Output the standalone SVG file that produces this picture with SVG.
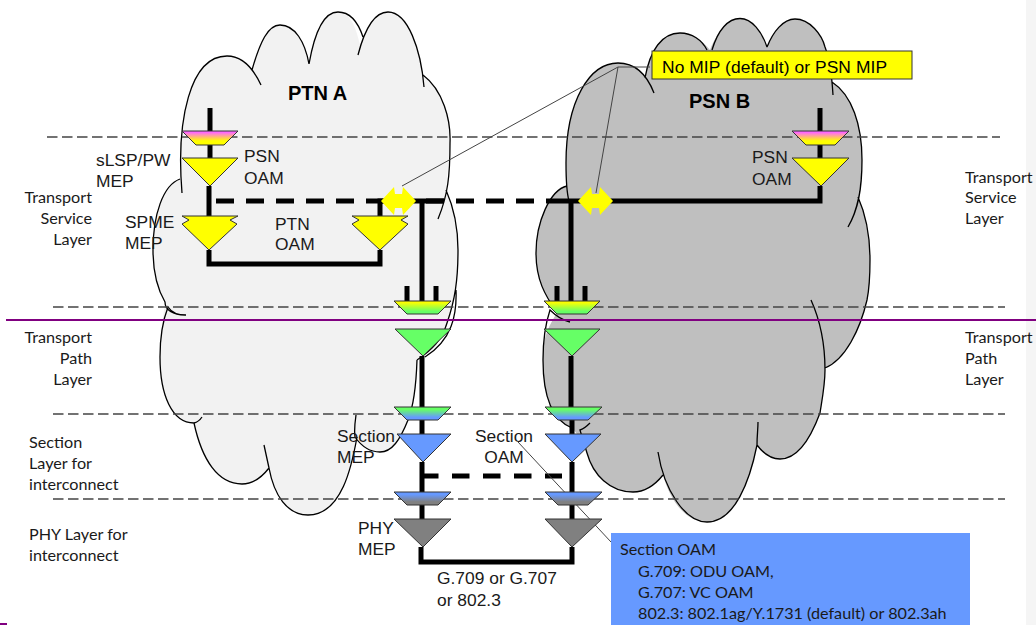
<svg xmlns="http://www.w3.org/2000/svg" width="1036" height="625" viewBox="0 0 1036 625">
<style>
.fa{fill:#f2f2f2;stroke:none}.fb{fill:#bfbfbf;stroke:none}
.arc{fill:none;stroke:#000;stroke-width:1.3}
.dash{fill:none;stroke:#444;stroke-width:1.3;stroke-dasharray:10.5 4.5}
.thick{fill:none;stroke:#000;stroke-width:5}
.tri{stroke:#333;stroke-width:1}
.lead{fill:none;stroke:#444;stroke-width:1}
text{font-family:"Liberation Sans",Arial,sans-serif;font-size:17.4px;fill:#1a1a1a}
.c text{font-family:Lato,"Liberation Sans",sans-serif;font-size:16.2px}
</style>
<defs>
<linearGradient id="gMY" x1="0" y1="0" x2="0" y2="1"><stop offset="0.1" stop-color="#ff66ff"/><stop offset="0.7" stop-color="#ffff00"/></linearGradient>
<linearGradient id="gYG" x1="0" y1="0" x2="0" y2="1"><stop offset="0.1" stop-color="#ffff00"/><stop offset="0.8" stop-color="#66ff66"/></linearGradient>
<linearGradient id="gGB" x1="0" y1="0" x2="0" y2="1"><stop offset="0.2" stop-color="#66ff66"/><stop offset="0.8" stop-color="#6699ff"/></linearGradient>
<linearGradient id="gBK" x1="0" y1="0" x2="0" y2="1"><stop offset="0.2" stop-color="#6699ff"/><stop offset="0.75" stop-color="#808080"/></linearGradient>
<path id="pa" d="M182 193C176 120 190 56 227 56C243 56 254 70 261 85M252 70C260 42 268 25 280 25C295 25 305 42 309 64M309 64C315 30 325 12 338 12C350 12 358 22 363 37M358 55C365 28 375 12 388 12C408 12 421 50 424 87M423 75C443 90 451 120 450 143C450 175 448 195 438 219M446 190C454 208 458 230 458 250C458 280 455 300 447 323C442 340 432 350 417 360M456 290C457 315 452 340 425 357M417 360C416 390 412 410 408 420C400 440 392 452 380 452C370 452 362 447 355 437C354 430 355 422 356 415M357 437C352 465 342 515 308 515C287 515 274 495 269 468L264 445M269 468C262 477 254 484 242 484C218 484 202 460 194 423C198 422 200 420 202 417M194 423C172 423 160 395 160 357C160 335 163 320 168 307C172 313 178 315 186 315M185 315C173 315 165 310 165 302C158 290 153 272 153 250C153 215 163 185 180 179"/>
<path id="pb" d="M569 201C566 190 566 175 566 163C566 100 590 63 618 63C635 63 647 75 654 93M645 78C650 50 662 33 680 33C692 33 702 40 707 50M712 50C718 30 728 18.5 740 18.5C752 18.5 762 32 767 47M767 47C773 32 783 19 795 19C810 19 822 35 825 47C830 60 832 78 833 95M832 82C852 95 862 125 862 160C862 190 858 210 848 227M858 197C866 215 870 235 870 260C870 280 869 290 867 300C860 330 845 360 825 368M811 300C820 320 825 345 825 370C825 385 822 400 820 413C810 440 797 459 780 459C770 459 763 453 757 445C757 435 758 430 758 422M757 445C750 480 735 522 707 522C685 522 664 490 658 452M663 475C655 485 645 492 633 492C610 492 593 475 587 453C584 443 582 437 580 430C584 429 587 426 590 423M572 428C552 420 543 395 543 360C543 340 546 322 550 310C556 316 562 320 570 322M557 313C545 295 536 280 536 253C536 222 550 190 567 186"/>
</defs>
<rect x="1026" y="0" width="10" height="625" fill="#f5f5f5"/>
<g id="cloud-a">
<path class="fa" d="M182 193C176 120 190 56 227 56C240 56 248 62 252 70C260 42 268 25 280 25C295 25 305 42 309 64C315 30 325 12 338 12C348 12 355 22 360 45C365 28 375 12 388 12C405 12 418 45 423 75C443 90 451 120 450 143L446 190C454 208 458 230 458 250C458 280 455 300 447 323C442 340 432 350 417 360C416 390 412 410 408 420C400 440 392 452 380 452C370 452 362 447 357 437C352 465 342 515 308 515C287 515 274 495 269 468C262 477 254 484 242 484C218 484 202 460 194 423C172 423 160 395 160 357C160 335 163 320 165 302C158 290 153 272 153 250C153 215 163 185 180 179Z"/>
<use href="#pa" class="arc"/>
</g>
<g id="cloud-b">
<path class="fb" d="M566 186C566 175 566 170 566 163C566 100 590 63 618 63C630 63 640 68 645 78C650 50 662 33 680 33C692 33 702 40 710 50C718 30 728 18.5 740 18.5C752 18.5 762 32 767 47C773 32 783 19 795 19C810 19 822 35 825 47C830 60 832 70 832 82C852 95 862 125 862 160C862 175 860 185 858 197C866 215 870 235 870 260C870 280 869 290 867 300C860 330 845 360 825 368C825 385 822 400 820 413C810 440 797 459 780 459C770 459 763 453 757 445C750 480 735 522 707 522C685 522 670 500 663 475C655 485 645 492 633 492C610 492 593 475 587 453C584 443 576 432 572 428C552 420 543 395 543 360C543 340 546 330 557 313C545 295 536 280 536 253C536 222 550 190 566 186Z"/>
<use href="#pb" class="arc"/>
</g>
<g id="layer-lines">
<path class="dash" d="M47 137H1000M53 307H1005M53 414H1005M53 499H1005"/>
<path d="M6 320H1036M0 624H7" fill="none" stroke="#800080" stroke-width="2"/>
</g>
<g id="connectors">
<path class="thick" d="M210 108V131M210 145V158M209 186V201M209 201V216M209 250V264H380V250M380 216V201H396M422 201V301M407 286V301M436 286V301M422 356V407M422 420V434M422 462V492M422 505V519M421 547V562H572V547"/>
<path class="thick" d="M216 201H564" stroke-dasharray="18 12"/>
<path class="thick" d="M414 201H444M564 201H612M612 201H820V186M820 108V131M820 145V158M571 201V301M557 286V301M585 286V301M571 356V407M572 420V434M572 462V492M572 505V519"/>
<path class="thick" d="M421 476H562" stroke-dasharray="17.5 13.5"/>
<path class="lead" stroke="#666" d="M402 186L618 67"/>
<path class="lead" d="M596 193L618 67H650M518 442L611 542"/>
</g>
<g id="mip-a"><polygon points="381,201 394,187 395,194 402,194 403,187 416,201 403,215 402,208 395,208 394,215" fill="#ffff00"/></g>
<g id="mip-b"><polygon points="578,201 591,187 592,194 599,194 600,187 613,201 600,215 599,208 592,208 591,215" fill="#ffff00"/></g>
<g id="a-mep">
<polygon class="tri" points="182,131 238,131 224,145 196,145" fill="url(#gMY)"/>
<polygon class="tri" points="182,158 238,158 210,186" fill="#ffff00"/>
<text x="96" y="166">sLSP/PW</text><text x="96" y="187">MEP</text>
<text x="244" y="162">PSN</text><text x="244" y="184">OAM</text>
</g>
<g id="b-mep">
<polygon class="tri" points="792,131 849,131 835,145 806,145" fill="url(#gMY)"/>
<polygon class="tri" points="792,158 849,158 821,186" fill="#ffff00"/>
<text x="752" y="163">PSN</text><text x="752" y="185">OAM</text>
</g>
<g id="spme-left">
<polygon class="tri" points="182,216 238,216 230,220 237,224 209,250 182,224 189,220" fill="#ffff00"/>
<text x="125" y="228">SPME</text><text x="125" y="249">MEP</text>
</g>
<g id="spme-right">
<polygon class="tri" points="352,216 408,216 401,220 408,224 380,250 352,224 359,220" fill="#ffff00"/>
<text x="275" y="230">PTN</text><text x="275" y="250">OAM</text>
</g>
<g id="col-left">
<polygon class="tri" points="394,301 451,301 438,314 407,314" fill="url(#gYG)"/>
<polygon class="tri" points="395,329 451,329 423,356" fill="#66ff66"/>
<polygon class="tri" points="394,407 451,407 438,420 407,420" fill="url(#gGB)"/>
<polygon class="tri" points="397,434 451,434 423,462" fill="#6699ff"/>
<polygon class="tri" points="394,492 451,492 438,505 407,505" fill="url(#gBK)"/>
<polygon class="tri" points="394,519 451,519 423,547" fill="#808080"/>
<text x="337" y="442">Section</text><text x="337" y="463">MEP</text>
<text x="358" y="534">PHY</text><text x="358" y="555">MEP</text>
</g>
<g id="col-right">
<polygon class="tri" points="544,301 600,301 587,314 557,314" fill="url(#gYG)"/>
<polygon class="tri" points="544,329 600,329 572,356" fill="#66ff66"/>
<polygon class="tri" points="545,407 602,407 588,420 558,420" fill="url(#gGB)"/>
<polygon class="tri" points="545,434 601,434 572,462" fill="#6699ff"/>
<polygon class="tri" points="545,492 602,492 588,505 558,505" fill="url(#gBK)"/>
<polygon class="tri" points="545,519 602,519 572,547" fill="#808080"/>
<text x="504" y="442" text-anchor="middle">Section</text><text x="504" y="463" text-anchor="middle">OAM</text>
</g>
<g id="labels">
<text x="288" y="100" font-weight="bold" style="font-size:20px;fill:#000">PTN A</text>
<text x="689" y="108" font-weight="bold" style="font-size:20px;fill:#000">PSN B</text>
<text x="437" y="584">G.709 or G.707</text><text x="437" y="606">or 802.3</text>
</g>
<g id="mip-box">
<rect x="652" y="51" width="260" height="28" fill="#ffff00" stroke="#333" stroke-width="1"/>
<text x="662" y="73" textLength="225" style="fill:#000">No MIP (default) or PSN MIP</text>
</g>
<g id="section-box" class="c">
<rect x="611" y="533" width="359" height="92" fill="#6699ff"/>
<text x="620" y="555">Section OAM</text>
<text x="638" y="577">G.709: ODU OAM,</text>
<text x="638" y="598">G.707: VC OAM</text>
<text x="638" y="619">802.3: 802.1ag/Y.1731 (default) or 802.3ah</text>
</g>
<g id="layer-labels" class="c">
<text x="92" y="203" text-anchor="end">Transport</text><text x="92" y="224" text-anchor="end">Service</text><text x="92" y="245" text-anchor="end">Layer</text>
<text x="92" y="343" text-anchor="end">Transport</text><text x="92" y="364" text-anchor="end">Path</text><text x="92" y="385" text-anchor="end">Layer</text>
<text x="29" y="448">Section</text><text x="29" y="469">Layer for</text><text x="29" y="490">interconnect</text>
<text x="29" y="540">PHY Layer for</text><text x="29" y="561">interconnect</text>
<text x="965" y="183">Transport</text><text x="965" y="203">Service</text><text x="965" y="224">Layer</text>
<text x="965" y="343">Transport</text><text x="965" y="364">Path</text><text x="965" y="385">Layer</text>
</g>
</svg>
